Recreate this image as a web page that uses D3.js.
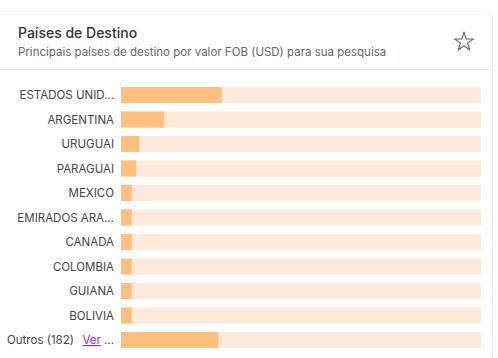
<!DOCTYPE html>
<html><head><meta charset="utf-8">
<script src="https://cdn.jsdelivr.net/npm/d3@7"></script>
<style>
html,body{margin:0;padding:0;background:#fff;overflow:hidden}
svg{display:block;font-family:Inter,"Noto Sans",sans-serif}
</style></head><body>
<svg id="c" width="498" height="358"></svg>
<script>
const title = "Países de Destino";
const subtitle = "Principais países de destino por valor FOB (USD) para sua pesquisa";
const categories = ["ESTADOS UNID...", "ARGENTINA", "URUGUAI", "PARAGUAI", "MEXICO", "EMIRADOS ARA...", "CANADA", "COLOMBIA", "GUIANA", "BOLIVIA", "Outros (182)"];
const values = [28, 12, 5, 4.2, 3, 3, 3, 3, 3, 3, 27];
const linkLabel = "Ver";

const svg = d3.select("#c");

// card
svg.append("rect").attr("x", -10).attr("y", 11.5).attr("width", 502.5).attr("height", 360)
  .attr("rx", 6).attr("fill", "#fff").attr("stroke", "#f0f0f0");
svg.append("line").attr("x1", 0).attr("x2", 492).attr("y1", 69.5).attr("y2", 69.5)
  .attr("stroke", "#e6e6e6");

svg.append("text").attr("x", 18).attr("y", 38).attr("font-size", 14).attr("font-weight", 500)
  .attr("fill", "#333").text(title);
svg.append("text").attr("x", 18).attr("y", 56).attr("font-size", 11.5)
  .attr("fill", "#666").text(subtitle);

// star
const star = d3.symbol().type(d3.symbolStar).size(110);
svg.append("path").attr("d", star()).attr("transform", "translate(464,42)")
  .attr("fill", "none").attr("stroke", "#666").attr("stroke-width", 1.1).attr("stroke-linejoin", "round");

const x = d3.scaleLinear().domain([0, 100]).range([121, 481]);
const y = d3.scaleBand().domain(categories).range([87, 348]).paddingInner(0.347).paddingOuter(0);

const rows = svg.append("g").selectAll("g").data(categories).join("g");
rows.append("rect").attr("x", x(0)).attr("y", d => y(d)).attr("width", x(100) - x(0))
  .attr("height", y.bandwidth()).attr("fill", "#fdeadb");
rows.append("rect").attr("x", x(0)).attr("y", d => y(d)).attr("width", (d, i) => x(values[i]) - x(0))
  .attr("height", y.bandwidth()).attr("fill", "#ffbf7f");

const last = categories.length - 1;
rows.filter((d, i) => i < last).append("text").attr("x", 114).attr("y", d => y(d) + y.bandwidth() / 2)
  .attr("dy", "0.35em").attr("text-anchor", "end").attr("font-size", 11.5).attr("fill", "#444").text(d => d);

const lastRow = rows.filter((d, i) => i === last);
lastRow.append("text").attr("x", 7).attr("y", d => y(d) + y.bandwidth() / 2).attr("dy", "0.35em")
  .attr("font-size", 11.5).attr("fill", "#444").text(d => d);
const lt = lastRow.append("text").attr("x", 114).attr("y", d => y(d) + y.bandwidth() / 2).attr("dy", "0.35em")
  .attr("text-anchor", "end").attr("font-size", 11.5);
lt.append("tspan").attr("fill", "#7b2ff7").attr("text-decoration", "underline").text(linkLabel);
lt.append("tspan").attr("fill", "#444").text(" ...");
</script></body></html>
